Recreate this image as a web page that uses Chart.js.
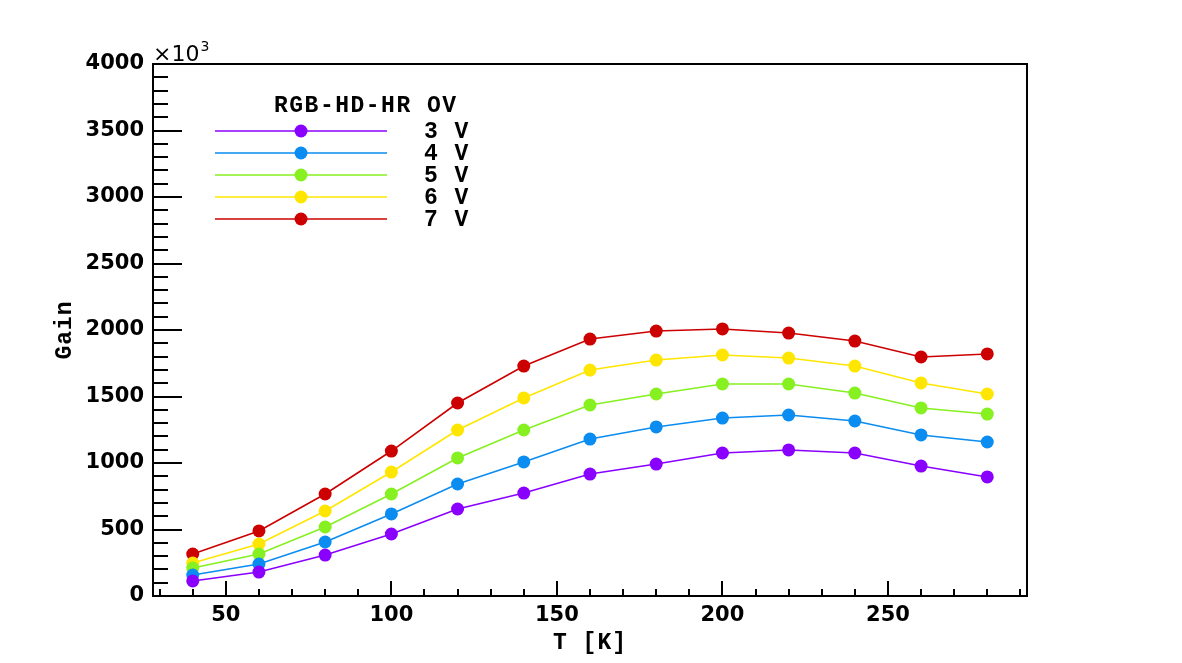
<!DOCTYPE html>
<html>
<head>
<meta charset="utf-8">
<script src="https://cdn.jsdelivr.net/npm/chart.js@4/dist/chart.umd.min.js"></script>
<style>
body{margin:0;background:#fff;}
#wrap{width:1182px;height:663px;}
</style>
</head>
<body>
<div id="wrap"><canvas id="chart" width="1182" height="663"></canvas></div>
<script>

/* DATA (gain in units of 10^3) */

let temps = [40,60,80,100,120,140,160,180,200,220,240,260,280];

let gain3V = [113,180,308,466,654,774,917,992,1075,1098,1075,977,895];
let gain4V = [158,240,406,617,842,1008,1180,1271,1338,1361,1316,1211,1158];
let gain5V = [210,316,519,767,1038,1248,1436,1519,1594,1594,1526,1414,1368];
let gain6V = [248,391,639,932,1248,1489,1699,1774,1812,1789,1729,1602,1519];
let gain7V = [316,489,767,1090,1451,1729,1932,1992,2008,1977,1917,1797,1820];

let seriesNames = ["3 V","4 V","5 V","6 V","7 V"];
let seriesColors = ["#8a00ff","#0a8cf0","#86f020","#ffe600","#cc0000"];

let xTicks = [50,100,150,200,250];
let yTicks = [0,500,1000,1500,2000,2500,3000,3500,4000];

let legendTitle = "RGB-HD-HR OV";
let xTitle = "T [K]";
let yTitle = "Gain";

let monoFont = "bold 23px 'Liberation Mono', 'DejaVu Sans Mono', monospace";


/* DATASETS */

let allGain = [gain3V,gain4V,gain5V,gain6V,gain7V];

let datasets = allGain.map((vals,i)=>({
label:seriesNames[i],
data:temps.map((t,j)=>({x:t,y:vals[j]})),
borderColor:seriesColors[i],
backgroundColor:seriesColors[i],
borderWidth:1.6,
pointRadius:6.5,
pointBorderWidth:0,
pointBackgroundColor:seriesColors[i],
tension:0
}));


/* FRAME, TICKS, TITLES, LEGEND */

let decorations = {
id:"decorations",
afterDraw(chart){

let ctx = chart.ctx;
let a = chart.chartArea;
let xs = chart.scales.x;
let ys = chart.scales.y;

ctx.save();
ctx.strokeStyle = "#000";
ctx.lineWidth = 2;
ctx.strokeRect(a.left,a.top,a.right-a.left,a.bottom-a.top);

// y ticks pointing inwards
for(let v=0; v<=4000; v+=100){
let py = Math.round(ys.getPixelForValue(v));
let len = (v%500===0) ? 29 : 15;
ctx.beginPath();
ctx.moveTo(a.left,py);
ctx.lineTo(a.left+len,py);
ctx.stroke();
}

// x ticks pointing upwards
for(let v=30; v<=290; v+=10){
let px = Math.round(xs.getPixelForValue(v));
let len = (v%50===0) ? 15 : 7;
ctx.beginPath();
ctx.moveTo(px,a.bottom);
ctx.lineTo(px,a.bottom-len);
ctx.stroke();
}

// x10^3 label
ctx.fillStyle = "#000";
ctx.textBaseline = "alphabetic";
ctx.textAlign = "left";
ctx.font = "22px 'DejaVu Sans', sans-serif";
ctx.fillText("\u00d710",a.left,a.top-3);
let w = ctx.measureText("\u00d710").width;
ctx.font = "14px 'DejaVu Sans', sans-serif";
ctx.fillText("3",a.left+w+1,a.top-13);

// axis titles
ctx.font = monoFont;
ctx.letterSpacing = "1px";
ctx.textAlign = "center";
ctx.textBaseline = "middle";
ctx.fillText(xTitle,(a.left+a.right)/2,643);
ctx.save();
ctx.translate(65,(a.top+a.bottom)/2);
ctx.rotate(-Math.PI/2);
ctx.fillText(yTitle,0,0);
ctx.restore();

// legend
ctx.letterSpacing = "1.5px";
ctx.textAlign = "left";
ctx.fillText(legendTitle,274,106);
seriesNames.forEach((name,i)=>{
let y = 131 + i*22;
ctx.strokeStyle = seriesColors[i];
ctx.lineWidth = 1.6;
ctx.beginPath();
ctx.moveTo(215,y);
ctx.lineTo(387,y);
ctx.stroke();
ctx.fillStyle = seriesColors[i];
ctx.beginPath();
ctx.arc(301,y,6.5,0,Math.PI*2);
ctx.fill();
ctx.fillStyle = "#000";
ctx.fillText(name,424,y+1);
});

ctx.restore();

}
};


/* CHART */

let ctx = document.getElementById("chart").getContext("2d");

new Chart(ctx,{

type:"line",

data:{datasets:datasets},

options:{
responsive:false,
animation:false,
layout:{padding:{top:64,right:155,left:0,bottom:0}},
plugins:{legend:{display:false},tooltip:{enabled:false}},
scales:{
x:{
type:"linear",
min:28,
max:292,
grid:{display:false,drawTicks:false},
border:{display:false},
afterBuildTicks(scale){ scale.ticks = xTicks.map(v=>({value:v})); },
afterFit(scale){ scale.height = 67; },
ticks:{
autoSkip:false,
maxRotation:0,
padding:7,
color:"#000",
callback:(v)=>String(v),
font:{family:"'DejaVu Sans', sans-serif",size:21,weight:"bold"}
}
},
y:{
type:"linear",
min:0,
max:4000,
grid:{display:false,drawTicks:false},
border:{display:false},
afterBuildTicks(scale){ scale.ticks = yTicks.map(v=>({value:v})); },
afterFit(scale){ scale.width = 153; },
ticks:{
autoSkip:false,
padding:9,
color:"#000",
callback:(v)=>String(v),
font:{family:"'DejaVu Sans', sans-serif",size:21,weight:"bold"}
}
}
}
},

plugins:[decorations]

});

</script>
</body>
</html>
